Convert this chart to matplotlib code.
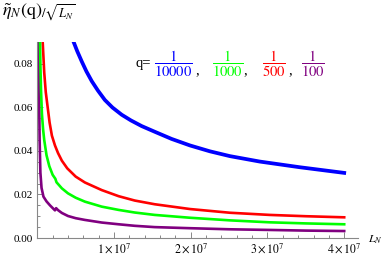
import numpy as np
import matplotlib
matplotlib.use("Agg")
import matplotlib.pyplot as plt
from matplotlib.ticker import MultipleLocator, FormatStrFormatter, FixedLocator

plt.rcParams['font.family'] = ['Liberation Serif', 'DejaVu Serif']
plt.rcParams['mathtext.fontset'] = 'stix'

# L_N in units of 1e7
L_blue = [0.44, 0.47, 0.52, 0.58, 0.64, 0.71, 0.79, 0.88, 0.98, 1.10, 1.22, 1.36, 1.53,
          1.75, 1.99, 2.25, 2.51, 2.90, 3.42, 4.00]
y_blue = [0.095, 0.0903, 0.0858, 0.081, 0.0765, 0.072, 0.0677, 0.0634, 0.0599, 0.0566, 0.0540,
          0.0514, 0.0488, 0.0455, 0.0425, 0.0398, 0.0376, 0.0351, 0.0325, 0.0299]

L_red = [0.055, 0.07, 0.09, 0.11, 0.135, 0.16, 0.19, 0.23, 0.27, 0.32, 0.39, 0.50, 0.62, 0.84,
         1.06, 1.27, 1.53, 1.99, 2.51, 3.03, 3.50, 4.00]
y_red = [0.095, 0.090, 0.076, 0.067, 0.060, 0.053, 0.047, 0.0425, 0.039, 0.0355, 0.032, 0.0282,
         0.0255, 0.0220, 0.0192, 0.0172, 0.0155, 0.0133, 0.0116, 0.0106, 0.0100, 0.0095]

L_green = [0.03, 0.035, 0.041, 0.048, 0.06, 0.075, 0.09, 0.12, 0.156, 0.20, 0.235, 0.25, 0.27,
           0.32, 0.40, 0.50, 0.62, 0.84, 1.06, 1.27, 1.53, 1.99, 2.51, 3.03, 3.50, 4.00]
y_green = [0.095, 0.090, 0.078, 0.068, 0.057, 0.050, 0.045, 0.038, 0.033, 0.029, 0.0272, 0.0256,
           0.0248, 0.0228, 0.0205, 0.0185, 0.0167, 0.0144, 0.0129, 0.0117, 0.0106, 0.0093,
           0.0081, 0.0072, 0.0067, 0.0063]

L_purple = [0.008, 0.018, 0.024, 0.03, 0.04, 0.055, 0.08, 0.12, 0.165, 0.23, 0.245, 0.27, 0.32,
            0.40, 0.50, 0.62, 0.84, 1.06, 1.27, 1.53, 1.99, 2.51, 3.03, 3.50, 4.00]
y_purple = [0.095, 0.090, 0.062, 0.045, 0.030, 0.023, 0.019, 0.0168, 0.0150, 0.0127, 0.0137,
            0.0128, 0.0115, 0.0101, 0.0091, 0.0083, 0.0071, 0.0063, 0.0056, 0.0050, 0.0045,
            0.0040, 0.0037, 0.0034, 0.0032]

series = [(L_blue, y_blue, '#0000ff', 2.7),
          (L_green, y_green, '#00ff00', 1.9),
          (L_red, y_red, '#ff0000', 1.9),
          (L_purple, y_purple, '#800080', 1.9)]
q_labels = ['10000', '1000', '500', '100']
q_colors = ['#0000ff', '#00ff00', '#ff0000', '#800080']

fig = plt.figure(figsize=(3.82, 2.56), dpi=100)
ax = fig.add_axes([0.0977, 0.0703, 0.8395, 0.7656])

for L, y, c, lw in series[::-1]:
    ax.plot(np.array(L) * 1e7, y, color=c, lw=lw, solid_joinstyle='round')

ax.set_xlim(0, 4.18e7)
ax.set_ylim(0, 0.09)
for s in ['top', 'right']:
    ax.spines[s].set_visible(False)
for s in ['left', 'bottom']:
    ax.spines[s].set_color('#888888')
    ax.spines[s].set_linewidth(0.8)

ax.xaxis.set_major_locator(FixedLocator([1e7, 2e7, 3e7, 4e7]))
ax.xaxis.set_minor_locator(MultipleLocator(0.2e7))
ax.set_xticklabels([r'$1\times10^{7}$', r'$2\times10^{7}$', r'$3\times10^{7}$', r'$4\times10^{7}$'])
ax.yaxis.set_major_locator(MultipleLocator(0.02))
ax.yaxis.set_minor_locator(MultipleLocator(0.005))
ax.yaxis.set_major_formatter(FormatStrFormatter('%.2f'))
ax.tick_params(which='both', direction='in', color='#888888', labelsize=8, width=0.7)
ax.tick_params(which='major', length=4)
ax.tick_params(which='minor', length=2)
ax.tick_params(axis='x', pad=2.5, labelsize=8.5)
ax.tick_params(axis='y', pad=3)

fig.text(0.005, 0.995, r'$\tilde{\eta}_N(\mathrm{q})_{/\sqrt{L_N}}$', fontsize=13, va='top', ha='left')
fig.text(0.963, 0.062, r'$L_N$', fontsize=8.5, va='center', ha='left')

fig.text(135 / 382, 1 - 64 / 256, r'q=', fontsize=10.5, va='center', ha='left')
xc = [173, 228, 274, 313]
xcomma = [195, 243, 288]
for i in range(4):
    fig.text(xc[i] / 382, 1 - 64 / 256, r'$\dfrac{1}{%s}$' % q_labels[i], fontsize=10.5,
             color=q_colors[i], va='center', ha='center')
for xx in xcomma:
    fig.text(xx / 382, 1 - 74 / 256, ',', fontsize=10.5, va='baseline', ha='left')

fig.savefig('out.png', dpi=100)
